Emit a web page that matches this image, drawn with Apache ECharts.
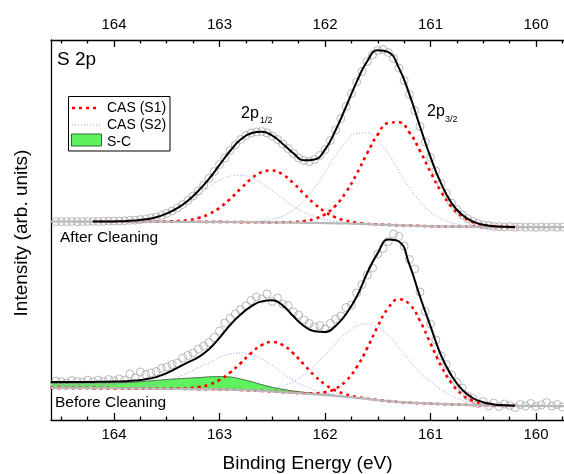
<!DOCTYPE html>
<html>
<head>
<meta charset="utf-8">
<title>S 2p</title>
<script src="https://cdn.jsdelivr.net/npm/echarts@6/dist/echarts.min.js"></script>
<style>
  html, body { margin: 0; padding: 0; background: #fff; }
  #chart { width: 564px; height: 474px; }
</style>
</head>
<body>
<div id="chart"></div>
<script>
// binding energy grid of the fitted curves (eV)
var energy = [164.6, 164.5, 164.4, 164.3, 164.2, 164.1, 164.0, 163.9, 163.8, 163.7,
  163.6, 163.5, 163.4, 163.3, 163.2, 163.1, 163.0, 162.9, 162.8, 162.7,
  162.6, 162.5, 162.4, 162.3, 162.2, 162.1, 162.0, 161.9, 161.8, 161.7,
  161.6, 161.5, 161.4, 161.3, 161.2, 161.1, 161.0, 160.9, 160.8, 160.7,
  160.6, 160.5, 160.4, 160.3, 160.2, 160.1, 160.0, 159.9, 159.8, 159.7];

// measured points energy (eV)
var pointEnergy = [164.6, 164.55, 164.5, 164.45, 164.4, 164.35, 164.3, 164.25, 164.2, 164.15,
  164.1, 164.05, 164.0, 163.95, 163.9, 163.85, 163.8, 163.75, 163.7, 163.65,
  163.6, 163.55, 163.5, 163.45, 163.4, 163.35, 163.3, 163.25, 163.2, 163.15,
  163.1, 163.05, 163.0, 162.95, 162.9, 162.85, 162.8, 162.75, 162.7, 162.65,
  162.6, 162.55, 162.5, 162.45, 162.4, 162.35, 162.3, 162.25, 162.2, 162.15,
  162.1, 162.05, 162.0, 161.95, 161.9, 161.85, 161.8, 161.75, 161.7, 161.65,
  161.6, 161.55, 161.5, 161.45, 161.4, 161.35, 161.3, 161.25, 161.2, 161.15,
  161.1, 161.05, 161.0, 160.95, 160.9, 160.85, 160.8, 160.75, 160.7, 160.65,
  160.6, 160.55, 160.5, 160.45, 160.4, 160.35, 160.3, 160.25, 160.2, 160.15,
  160.1, 160.05, 160.0, 159.95, 159.9, 159.85, 159.8, 159.75];

var majorTicks = [164, 163, 162, 161, 160];
var minorTicks = [164.5, 164.25, 163.75, 163.5, 163.25, 162.75, 162.5, 162.25,
  161.75, 161.5, 161.25, 160.75, 160.5, 160.25, 159.75];

// ---- After Cleaning ----
var bgAfter = [198.5, 198.5, 198.5, 198.4, 198.4, 198.4, 198.4, 198.3, 198.3, 198.3,
  198.3, 198.3, 198.2, 198.2, 198.2, 198.1, 198.1, 198.0, 197.9, 197.8,
  197.7, 197.6, 197.5, 197.4, 197.2, 197.1, 196.9, 196.7, 196.5, 196.2,
  195.9, 195.5, 195.1, 194.7, 194.4, 194.1, 193.8, 193.6, 193.4, 193.3,
  193.2, 193.1, 193.0, 193.0, 192.9, 192.9, 192.9, 192.8, 192.8, 192.8];
// component heights above background
var s1aAfter = [null, null, null, null, 0, 0, 0, 0, 0, 0, 0, 0, 0, 0, 0, 0, 0, 0, 0, 0, 0, 0,
  0.2, 0.6, 1.6, 4.0, 8.8, 17.7, 31.4, 49.9, 70.9, 90.0, 101.9, 103.1, 93.1, 75.1, 54.1, 34.7,
  20.0, 10.3, 4.7, 1.9, 0.7, 0.2, 0, null, null, null, null, null];
var s1bAfter = [null, null, null, null, 0, 0, 0, 0, 0, 0, 0,
  0.2, 0.7, 1.7, 3.8, 7.7, 14.1, 23.0, 33.4, 43.3, 50.1, 51.9, 47.9, 39.5, 29.1, 19.2, 11.3,
  5.9, 2.8, 1.2, 0.4, 0.1, 0, 0, 0, 0, 0, 0, 0, 0, 0, 0, 0, 0, 0, null, null, null, null, null];
var s2aAfter = [null, null, null, null, 0, 0, 0, 0, 0, 0, 0, 0, 0, 0, 0, 0, 0, 0,
  0.2, 0.5, 1.4, 3.2, 6.6, 12.6, 22.0, 35.1, 51.0, 67.6, 81.9, 90.5, 91.3, 84.1, 70.8, 54.3,
  38.1, 24.3, 14.2, 7.6, 3.7, 1.6, 0.7, 0.2, 0, 0, 0, null, null, null, null, null];
var s2bAfter = [null, null, null, null, 0, 0,
  0.2, 0.5, 1.2, 2.4, 4.5, 8.0, 12.9, 19.4, 27.0, 34.8, 41.5, 45.9, 46.9, 44.5, 39.0, 31.7,
  23.9, 16.6, 10.8, 6.4, 3.6, 1.8, 0.9, 0.4, 0.2, 0, 0, 0, 0, 0, 0, 0, 0, 0, 0, 0, 0, 0, 0,
  null, null, null, null, null];
var envAfter = [null, null, null, null, 0, 0, 0.2, 0.5, 1.2, 2.4,
  4.5, 8.2, 13.6, 21.1, 31, 43, 57, 71, 82.5, 89,
  90.5, 86.8, 78.6, 69.3, 62.5, 63.5, 73.5, 93, 117, 142,
  162.8, 174.2, 172.7, 157.4, 131.2, 99.4, 69, 43, 23.5, 11.9,
  5.4, 2.1, 0.7, 0.2, 0, null, null, null, null, null];
var ptsAfter = [198.6, 198.3, 198.5, 198.4, 198.6, 198.3, 198.5, 198.4, 198.6, 198.5,
  198.7, 198.8, 198.9, 199.0, 199.2, 199.6, 199.8, 200.4, 201.0, 202.0,
  203.0, 204.5, 206.6, 209.0, 212.0, 215.5, 219.5, 224.0, 229.0, 235.0,
  241.5, 248.5, 255.5, 262.0, 269.5, 275.0, 280.5, 284.5, 287.0, 288.0,
  288.5, 287.0, 284.0, 280.5, 276.0, 271.5, 266.5, 262.0, 259.5, 258.5,
  260.5, 264.5, 270.5, 279.5, 290.0, 301.5, 313.5, 326.5, 338.0, 348.5,
  358.5, 365.0, 369.5, 370.5, 367.5, 361.5, 352.0, 339.5, 325.5, 309.5,
  293.5, 278.0, 262.5, 249.0, 236.5, 226.5, 217.0, 210.5, 205.0, 201.5,
  198.5, 196.5, 195.0, 194.5, 193.5, 193.4, 193.0, 193.4, 192.7, 193.2,
  192.6, 193.0, 192.5, 193.1, 192.6, 193.3, 192.7, 193.0];

// ---- Before Cleaning ----
var bgBefore = [32.2, 32.1, 32.0, 32.0, 31.9, 31.9, 31.8, 31.7, 31.6, 31.5,
  31.4, 31.3, 31.2, 31.1, 30.9, 30.8, 30.6, 30.4, 30.0, 29.6,
  29.1, 28.5, 27.9, 27.2, 26.5, 25.7, 24.9, 24.1, 23.2, 22.2,
  21.0, 19.9, 18.9, 18.0, 17.3, 16.8, 16.4, 16.0, 15.6, 15.3,
  15.0, 14.8, 14.6, 14.4, 14.3, 14.2, 14.1, 14.0, 13.9, 13.8];
var scBefore = [4.5, 4.6, 4.8, 5.0, 5.2, 5.3, 5.5, 5.8, 6.3, 7.2,
  8.2, 9.2, 10.0, 10.7, 11.5, 12.3, 12.8, 12.6, 11.0, 8.8,
  6.3, 4.2, 2.8, 1.8, 1.2, 0.8, 0.5, 0.3, 0.1, 0];
var s1aBefore = [0, 0, 0, 0, 0, 0, 0, 0, 0, 0, 0, 0, 0, 0, 0, 0, 0, 0, 0, 0, 0, 0, 0,
  0.1, 0.3, 1.0, 2.9, 7.3, 16.0, 30.6, 50.9, 73.8, 93.3, 102.7, 98.6, 82.4, 60.1, 38.2,
  21.1, 10.2, 4.3, 1.6, 0.5, 0.1, 0, null, null, null, null, null];
var s1bBefore = [0, 0, 0, 0, 0, 0, 0, 0, 0, 0, 0,
  0.1, 0.3, 0.8, 2.0, 4.6, 9.5, 17.0, 26.8, 37.4, 45.8, 49.5, 47.0, 39.3, 29.0, 18.8, 10.7,
  5.4, 2.4, 0.9, 0.3, 0.1, 0, 0, 0, 0, 0, 0, 0, 0, 0, 0, 0, 0, 0, null, null, null, null, null];
var s2aBefore = [0, 0, 0, 0, 0, 0, 0, 0, 0, 0, 0, 0, 0, 0, 0, 0, 0,
  0.1, 0.3, 0.7, 1.6, 3.4, 6.4, 11.3, 18.6, 28.3, 39.9, 52.3, 63.6, 71.7, 75.0, 72.8, 65.5,
  54.7, 42.4, 30.5, 22.0, 14.5, 8.5, 4.5, 2.2, 1.0, 0.4, 0.1, 0, null, null, null, null, null];
var s2bBefore = [0, 0, 0, 0, 0, 0,
  0.3, 0.6, 1.3, 2.5, 4.5, 7.5, 11.5, 16.0, 21.5, 26.4, 31.9, 35.6, 37.0, 35.6, 31.9, 26.0,
  19.0, 12.8, 7.8, 4.5, 2.4, 1.2, 0.5, 0.2, 0, 0, 0, 0, 0, 0, 0, 0, 0, 0, 0, 0, 0, 0, 0,
  null, null, null, null, null];
var envBefore = [5.8, 5.9, 6.0, 6.1, 6.2, 6.4, 6.6, 7.0, 7.8, 9.2,
  11.5, 15.5, 21, 26.5, 32, 40, 51.5, 64.5, 75.5, 84,
  89.5, 91.3, 86.5, 76.5, 67.5, 63, 63, 70, 83, 101,
  126, 147, 161.5, 160.5, 138, 106.7, 77.3, 48.5, 28.5, 15,
  7, 3, 1, 0.3, 0, null, null, null, null, null];
var ptsBefore = [37.5, 39.0, 38.2, 37.0, 39.5, 38.5, 37.8, 39.8, 38.0, 40.0,
  38.6, 40.5, 39.2, 41.0, 39.8, 46.0, 42.0, 48.0, 45.5, 47.0,
  48.5, 51.5, 53.0, 55.5, 57.0, 62.0, 64.5, 67.0, 71.0, 74.0,
  77.5, 82.5, 89.0, 97.0, 101.5, 106.0, 110.5, 114.0, 119.5, 123.0,
  121.0, 126.0, 118.5, 122.0, 116.0, 114.5, 108.0, 105.0, 100.0, 96.5,
  93.0, 94.5, 91.0, 96.5, 101.0, 104.0, 112.5, 115.0, 127.0, 135.5,
  145.0, 152.0, 166.0, 171.5, 178.5, 186.0, 183.5, 174.0, 160.5, 151.0,
  128.0, 108.5, 96.0, 80.0, 64.0, 55.5, 45.0, 37.5, 32.0, 24.0,
  21.5, 16.5, 18.5, 14.0, 17.0, 13.5, 16.0, 14.5, 12.5, 15.5,
  14.0, 16.5, 13.5, 15.0, 17.5, 14.0, 15.5, 13.0];

var FONT = '"Liberation Sans", Arial, sans-serif';

function onBase(base, h) {
  var out = [];
  energy.forEach(function (e, i) {
    if (h[i] != null) out.push([e, +(base[i] + h[i]).toFixed(2)]);
  });
  return out;
}
function pairs(xs, ys) {
  return ys.map(function (v, i) { return [xs[i], v]; });
}
var zeros = energy.map(function () { return 0; });

var chart = echarts.init(document.getElementById('chart'));

function lineSeries(name, data, color, width, dash, z) {
  return {
    name: name, type: 'line', data: data, smooth: true, symbol: 'none',
    lineStyle: { color: color, width: width, type: dash || 'solid', cap: 'butt' },
    z: z, silent: true
  };
}

var red = '#ff0000', blue = '#9a9aff', grey = '#b8b8b8', green = '#5ef25e';
var redDash = [3, 4], blueDash = [1, 2];

// S-C band between the background and the S-C component
function renderSC(params, api) {
  var top = [], bottom = [];
  for (var i = 0; i < scBefore.length; i++) {
    top.push(api.coord([energy[i], bgBefore[i] + scBefore[i]]));
    bottom.push(api.coord([energy[i], bgBefore[i]]));
  }
  return {
    type: 'polygon',
    shape: { points: top.concat(bottom.reverse()) },
    style: { fill: green, stroke: null }
  };
}

function axisX(pos, ticks, len, labels, extra) {
  var a = {
    type: 'value', position: pos, min: 159.735, max: 164.597, inverse: true,
    axisLine: { show: labels, lineStyle: { color: '#000', width: 1.3 } },
    axisTick: { show: true, inside: true, length: len, customValues: ticks,
      lineStyle: { color: '#000', width: 1.3 } },
    axisLabel: { show: labels, customValues: ticks, margin: pos === 'bottom' ? 7 : 8,
      fontSize: 15, color: '#000', fontFamily: FONT },
    splitLine: { show: false }
  };
  return Object.assign(a, extra || {});
}

var option = {
  animation: false,
  backgroundColor: '#fff',
  grid: { left: 51, right: 0, top: 40, bottom: 54, containLabel: false, outerBoundsMode: 'none' },
  xAxis: [
    axisX('bottom', majorTicks, 7, true, {
      name: 'Binding Energy (eV)', nameLocation: 'middle', nameGap: 34,
      nameTextStyle: { fontSize: 19, color: '#000', fontFamily: FONT }
    }),
    axisX('top', majorTicks, 7, true),
    axisX('bottom', minorTicks, 3.5, false),
    axisX('top', minorTicks, 3.5, false)
  ],
  yAxis: {
    type: 'value', min: 0, max: 380,
    axisLine: { show: true, lineStyle: { color: '#000', width: 1.3 } },
    axisTick: { show: false }, axisLabel: { show: false }, splitLine: { show: false },
    name: 'Intensity (arb. units)', nameLocation: 'middle', nameGap: 20,
    nameTextStyle: { fontSize: 19, color: '#000', fontFamily: FONT, padding: [0, 6, 0, 0] }
  },
  series: [
    {
      name: 'S-C', type: 'custom', renderItem: renderSC, clip: true, silent: true,
      data: [[energy[0], bgBefore[0]]], z: 2
    },
    lineSeries('S-C line', onBase(bgBefore, scBefore), '#4a6e4a', 1, null, 2),
    lineSeries('S2a', onBase(bgAfter, s2aAfter), blue, 1, blueDash, 2),
    lineSeries('S2b', onBase(bgAfter, s2bAfter), blue, 1, blueDash, 2),
    lineSeries('S2c', onBase(bgBefore, s2aBefore), blue, 1, blueDash, 2),
    lineSeries('S2d', onBase(bgBefore, s2bBefore), blue, 1, blueDash, 2),
    {
      name: 'ptsA', type: 'scatter', data: pairs(pointEnergy, ptsAfter), symbol: 'circle',
      symbolSize: 8, silent: true, z: 3,
      itemStyle: { color: 'rgba(0,0,0,0)', borderColor: '#a8a8a8', borderWidth: 1 }
    },
    {
      name: 'ptsB', type: 'scatter', data: pairs(pointEnergy, ptsBefore), symbol: 'circle',
      symbolSize: 8, silent: true, z: 3,
      itemStyle: { color: 'rgba(0,0,0,0)', borderColor: '#a8a8a8', borderWidth: 1 }
    },
    lineSeries('S1a', onBase(bgAfter, s1aAfter), red, 2.6, redDash, 4),
    lineSeries('S1b', onBase(bgAfter, s1bAfter), red, 2.6, redDash, 4),
    lineSeries('S1c', onBase(bgBefore, s1aBefore), red, 2.6, redDash, 4),
    lineSeries('S1d', onBase(bgBefore, s1bBefore), red, 2.6, redDash, 4),
    // background drawn over the component tails, so they show only faintly
    lineSeries('bgA', onBase(bgAfter, zeros), grey, 2.2, null, 4.5),
    lineSeries('bgB', onBase(bgBefore, zeros), grey, 2.2, null, 4.5),
    lineSeries('envA', onBase(bgAfter, envAfter), '#000', 2, null, 5),
    lineSeries('envB', onBase(bgBefore, envBefore), '#000', 2, null, 5)
  ],
  graphic: [
    { type: 'text', x: 57, y: 60, style: { text: 'S 2p', font: '19px ' + FONT, fill: '#000', verticalAlign: 'middle' } },
    { type: 'text', x: 241, y: 114, style: { text: '2p', font: '16px ' + FONT, fill: '#000', verticalAlign: 'middle' } },
    { type: 'text', x: 260, y: 121, style: { text: '1/2', font: '9px ' + FONT, fill: '#000', verticalAlign: 'middle' } },
    { type: 'text', x: 427, y: 112, style: { text: '2p', font: '16px ' + FONT, fill: '#000', verticalAlign: 'middle' } },
    { type: 'text', x: 445, y: 120, style: { text: '3/2', font: '9px ' + FONT, fill: '#000', verticalAlign: 'middle' } },
    { type: 'text', x: 60, y: 238, style: { text: 'After Cleaning', font: '15.5px ' + FONT, fill: '#000', verticalAlign: 'middle' } },
    { type: 'text', x: 55, y: 403, style: { text: 'Before Cleaning', font: '15.5px ' + FONT, fill: '#000', verticalAlign: 'middle' } },
    { type: 'rect', shape: { x: 68.5, y: 96.5, width: 101.5, height: 54.5 }, style: { fill: '#fff', stroke: '#000', lineWidth: 1 }, z: 10 },
    { type: 'line', shape: { x1: 72, y1: 108, x2: 100, y2: 108 }, style: { stroke: red, lineWidth: 2.6, lineDash: redDash }, z: 11 },
    { type: 'text', x: 107, y: 108, style: { text: 'CAS (S1)', font: '14px ' + FONT, fill: '#000', verticalAlign: 'middle' }, z: 11 },
    { type: 'line', shape: { x1: 72, y1: 125, x2: 100, y2: 125 }, style: { stroke: blue, lineWidth: 1, lineDash: blueDash }, z: 11 },
    { type: 'text', x: 107, y: 125, style: { text: 'CAS (S2)', font: '14px ' + FONT, fill: '#000', verticalAlign: 'middle' }, z: 11 },
    { type: 'rect', shape: { x: 71.5, y: 134, width: 30, height: 12 }, style: { fill: green, stroke: '#2f6a2f', lineWidth: 1 }, z: 11 },
    { type: 'text', x: 107, y: 142, style: { text: 'S-C', font: '14px ' + FONT, fill: '#000', verticalAlign: 'middle' }, z: 11 }
  ]
};

chart.setOption(option);
</script>
</body>
</html>
